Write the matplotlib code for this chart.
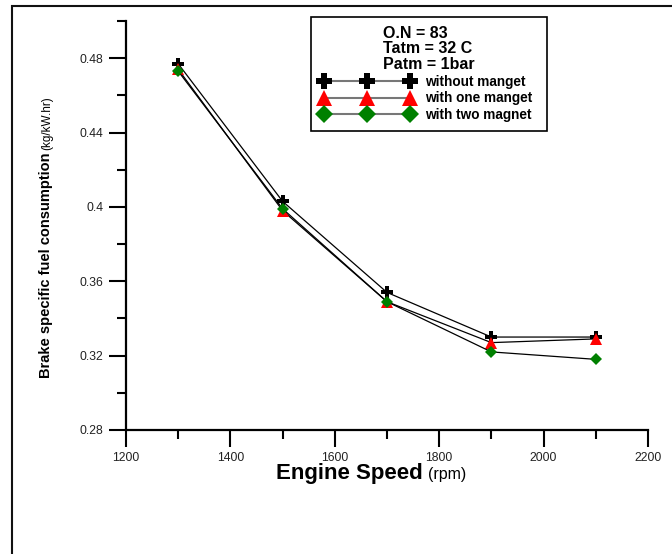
import matplotlib
matplotlib.use('Agg')
import matplotlib.pyplot as plt
from matplotlib.lines import Line2D
from matplotlib.patches import Rectangle
from matplotlib.ticker import MultipleLocator, FuncFormatter
from matplotlib.transforms import IdentityTransform

plt.rcParams['font.family'] = ['Liberation Sans', 'DejaVu Sans']

# ---- data ----
speed = [1300, 1500, 1700, 1900, 2100]
bsfc_without = [0.477, 0.403, 0.354, 0.330, 0.330]
bsfc_one = [0.474, 0.398, 0.349, 0.327, 0.329]
bsfc_two = [0.473, 0.399, 0.349, 0.322, 0.318]
series_labels = ["without manget", "with one manget", "with two magnet"]
legend_title = "O.N = 83\nTatm = 32 C\nPatm = 1bar"
x_major = [1200, 1400, 1600, 1800, 2000, 2200]
y_major = [0.28, 0.32, 0.36, 0.40, 0.44, 0.48]

W, H = 672, 554
fig = plt.figure(figsize=(W / 100, H / 100), dpi=100)


def fx(px):
    return px / W


def fy(py):
    return 1 - py / H


# outer frame
fig.add_artist(Rectangle((fx(12), -0.2), 1.5, fy(6) + 0.2, transform=fig.transFigure,
                         fill=False, lw=1.5, ec='#111111', clip_on=False))

ax = fig.add_axes([fx(126), fy(430), fx(648) - fx(126), fy(21) - fy(430)])

lw = 0.9
ax.plot(speed, bsfc_without, color='black', lw=lw, marker='P', ms=8.5,
        mfc='black', mec='black', mew=0, zorder=3)
ax.plot(speed, bsfc_one, color='black', lw=lw, marker='^', ms=8,
        mfc='red', mec='red', mew=0, zorder=4)
ax.plot(speed, bsfc_two, color='black', lw=lw, marker='D', ms=6.5,
        mfc='#008000', mec='#008000', mew=0, zorder=5)

ax.set_xlim(1200, 2200)
ax.set_ylim(0.28, 0.50)
ax.set_xticks(x_major)
ax.set_yticks(y_major)
ax.xaxis.set_minor_locator(MultipleLocator(100))
ax.yaxis.set_minor_locator(MultipleLocator(0.02))
ax.yaxis.set_major_formatter(FuncFormatter(lambda v, p: ('%g' % round(v, 2))))

for s in ['top', 'right']:
    ax.spines[s].set_visible(False)
for s in ['left', 'bottom']:
    ax.spines[s].set_linewidth(1.6)

ax.tick_params(which='major', direction='out', length=12.5, width=1.5,
               labelsize=8.8, labelcolor='#222222', pad=4)
ax.tick_params(which='minor', direction='out', length=6.5, width=1.5)
ax.tick_params(axis='x', which='major', pad=3)

# legend
h1 = Line2D([], [], color='#777777', lw=1.5, marker='P', ms=12, mfc='black', mec='black', mew=0)
h2 = Line2D([], [], color='#777777', lw=1.5, marker='^', ms=11, mfc='red', mec='red', mew=0)
h3 = Line2D([], [], color='#777777', lw=1.5, marker='D', ms=9, mfc='#008000', mec='#008000', mew=0)
leg = ax.legend([h1, h2, h3], series_labels, title=legend_title, numpoints=3,
                loc='upper left',
                bbox_to_anchor=(fx(311), fy(127), fx(547) - fx(311), fy(17) - fy(127)),
                bbox_transform=fig.transFigure, mode='expand', borderaxespad=0,
                handlelength=6.9, handletextpad=0.85,
                prop={'weight': 'bold', 'size': 9.8},
                title_fontproperties={'weight': 'bold', 'size': 11.5},
                fancybox=False, edgecolor='black', framealpha=1,
                labelspacing=0.2, borderpad=0.65)
leg.get_title().set_multialignment('left')
leg.get_title().set_linespacing(1.05)
leg.get_frame().set_linewidth(1.2)

# axis labels (mixed weights)
t1 = fig.text(276, H - 479, "Engine Speed", transform=IdentityTransform(),
              ha='left', va='baseline', fontsize=16, fontweight='bold')
t3 = fig.text(50, H - 378, "Brake specific fuel consumption", transform=IdentityTransform(),
              ha='left', va='baseline', rotation=90, rotation_mode='anchor',
              fontsize=10.5, fontweight='bold')
fig.canvas.draw()
r = fig.canvas.get_renderer()
bb1 = t1.get_window_extent(r)
fig.text(bb1.x1 + 5, H - 479, "(rpm)", transform=IdentityTransform(),
         ha='left', va='baseline', fontsize=11.5)
bb3 = t3.get_window_extent(r)
fig.text(50, bb3.y1 + 3, "(kg/kW.hr)", transform=IdentityTransform(),
         ha='left', va='baseline', rotation=90, rotation_mode='anchor', fontsize=8.5)

fig.savefig('out.png', dpi=100)
